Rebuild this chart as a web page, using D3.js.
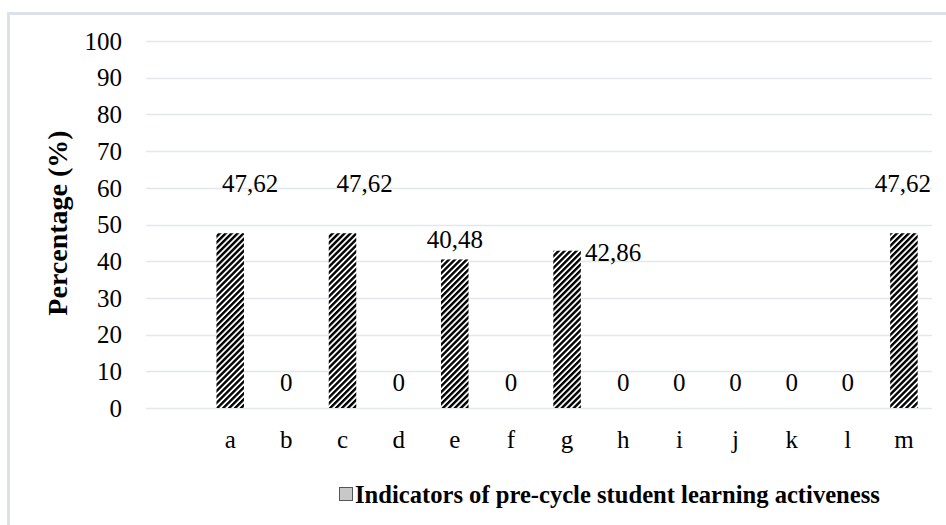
<!DOCTYPE html>
<html>
<head>
<meta charset="utf-8">
<script src="https://cdn.jsdelivr.net/npm/d3@7/dist/d3.min.js"></script>
<style>
  html, body { margin: 0; padding: 0; background: #fff; }
  svg { display: block; }
  svg text { font-family: "Times New Roman", Tinos, "Liberation Serif", "DejaVu Serif", serif; }
</style>
</head>
<body>
<svg id="chart" width="946" height="525"></svg>
<script>
// Indicators (a–m) of pre-cycle student learning activeness, in percent
const categories = ["a", "b", "c", "d", "e", "f", "g", "h", "i", "j", "k", "l", "m"];
const values = [47.62, 0, 47.62, 0, 40.48, 0, 42.86, 0, 0, 0, 0, 0, 47.62];
const valueLabels = ["47,62", "0", "47,62", "0", "40,48", "0", "42,86", "0", "0", "0", "0", "0", "47,62"];
const yTicks = [0, 10, 20, 30, 40, 50, 60, 70, 80, 90, 100];
const yTitle = "Percentage (%)";
const legendText = "Indicators of pre-cycle student learning activeness";

const W = 946, H = 525;
const margin = { left: 146, right: 14, top: 41, bottom: 117 };
const svg = d3.select("#chart");

// Frame around the chart area
svg.append("path")
  .attr("d", `M8.5,${H} L8.5,13.5 L${W},13.5`)
  .attr("fill", "none")
  .attr("stroke", "#dde1ea")
  .attr("stroke-width", 3);

// Diagonal hatch fill for the bars
const defs = svg.append("defs");
const pat = defs.append("pattern")
  .attr("id", "hatch")
  .attr("patternUnits", "userSpaceOnUse")
  .attr("width", 4.2)
  .attr("height", 4.2)
  .attr("patternTransform", "rotate(45)");
pat.append("rect").attr("width", 4.2).attr("height", 4.2).attr("fill", "#fff");
pat.append("rect").attr("x", 0).attr("y", 0).attr("width", 2.4).attr("height", 4.2).attr("fill", "#000");

// A leading empty slot keeps the first bar off the axis
const x = d3.scaleBand()
  .domain(["", ...categories])
  .range([margin.left, W - margin.right])
  .paddingInner(0.51)
  .paddingOuter(0.255);

const y = d3.scaleLinear()
  .domain([0, 100])
  .range([H - margin.bottom, margin.top]);

const cx = c => x(c) + x.bandwidth() / 2;

// Gridlines
svg.append("g")
  .selectAll("line")
  .data(yTicks)
  .join("line")
  .attr("x1", margin.left)
  .attr("x2", W - margin.right)
  .attr("y1", d => Math.round(y(d)) + 0.5)
  .attr("y2", d => Math.round(y(d)) + 0.5)
  .attr("stroke", "#e3e6ec")
  .attr("stroke-width", 1.5);

// Y tick labels
svg.append("g")
  .selectAll("text")
  .data(yTicks)
  .join("text")
  .attr("x", 122)
  .attr("y", d => y(d))
  .attr("dy", "0.35em")
  .attr("text-anchor", "end")
  .style("font-size", "25px")
  .attr("fill", "#000")
  .text(d => d);

// Bars
const bw = x.step() * 0.49;
svg.append("g")
  .selectAll("rect")
  .data(values)
  .join("rect")
  .attr("x", (d, i) => cx(categories[i]) - bw / 2)
  .attr("y", d => y(d))
  .attr("width", bw)
  .attr("height", d => y(0) - y(d))
  .attr("fill", "url(#hatch)");

// Hand-placed value labels (offsets from the default spot above each bar)
const labelShift = { a: [20, -24], c: [22, -24], e: [0, 6], g: [46, 27], m: [-1, -24] };
const shift = c => labelShift[c] || [0, 0];
svg.append("g")
  .selectAll("text")
  .data(values)
  .join("text")
  .attr("x", (d, i) => cx(categories[i]) + shift(categories[i])[0])
  .attr("y", (d, i) => y(d) - 17 + shift(categories[i])[1])
  .attr("text-anchor", "middle")
  .style("font-size", "25px")
  .attr("fill", "#000")
  .text((d, i) => valueLabels[i]);

// Category labels
svg.append("g")
  .selectAll("text")
  .data(categories)
  .join("text")
  .attr("x", d => cx(d))
  .attr("y", 448)
  .attr("text-anchor", "middle")
  .style("font-size", "25px")
  .attr("fill", "#000")
  .text(d => d);

// Y axis title
svg.append("text")
  .attr("transform", `translate(67,223) rotate(-90)`)
  .attr("text-anchor", "middle")
  .style("font-weight", "bold")
  .style("font-size", "28px")
  .attr("fill", "#000")
  .text(yTitle);

// Legend
const legend = svg.append("g").attr("transform", "translate(339,487)");
legend.append("rect")
  .attr("x", 0.5).attr("y", 0.5)
  .attr("width", 13).attr("height", 13)
  .attr("fill", "#c8c8c8")
  .attr("stroke", "#555")
  .attr("stroke-width", 1);
legend.append("text")
  .attr("x", 16)
  .attr("y", 7)
  .attr("dy", "0.35em")
  .style("font-weight", "bold")
  .style("font-size", "24.6px")
  .attr("fill", "#000")
  .text(legendText);
</script>
</body>
</html>
